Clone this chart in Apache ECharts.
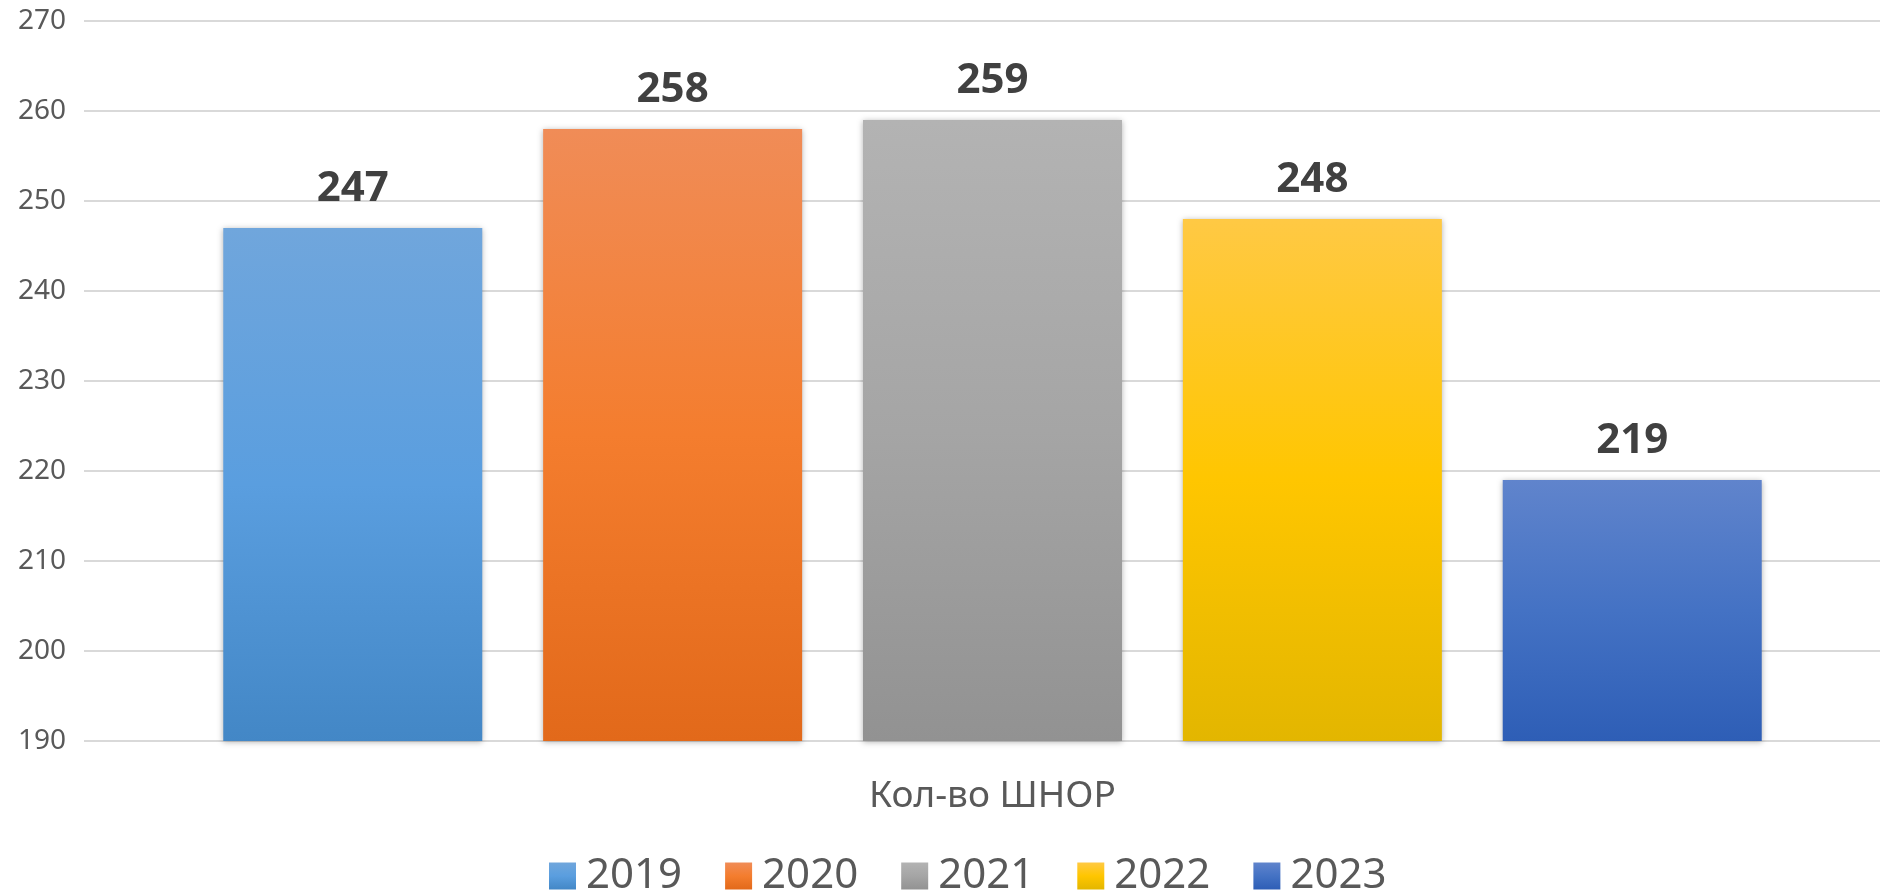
<!DOCTYPE html>
<html>
<head>
<meta charset="utf-8">
<script src="https://cdn.jsdelivr.net/npm/echarts@6/dist/echarts.min.js"></script>
<style>
  html, body { margin: 0; padding: 0; background: #fff; }
  #chart { width: 1880px; height: 893px; }
</style>
</head>
<body>
<div id="chart"></div>
<script>
  var categories = ['Кол-во ШНОР'];
  var years = ['2019', '2020', '2021', '2022', '2023'];
  var values = [247, 258, 259, 248, 219];
  var yTicks = { min: 190, max: 270, interval: 10 };

  // light top -> base -> dark bottom, like the office gradient fill
  var fills = [
    ['#70a6dc', '#5a9edf', '#4387c6'],
    ['#f08c57', '#f47d2e', '#e2691a'],
    ['#b3b3b3', '#a5a5a5', '#929292'],
    ['#ffc944', '#ffc600', '#e3b600'],
    ['#6084cc', '#4472c4', '#2e5eb6']
  ];

  function grad(c) {
    return {
      type: 'linear', x: 0, y: 0, x2: 0, y2: 1,
      colorStops: [
        { offset: 0, color: c[0] },
        { offset: 0.5, color: c[1] },
        { offset: 1, color: c[2] }
      ]
    };
  }

  var chart = echarts.init(document.getElementById('chart'));

  var series = years.map(function (y, i) {
    return {
      name: y,
      type: 'bar',
      xAxisIndex: 1,
      yAxisIndex: 1,
      data: [values[i]],
      barWidth: 259,
      barGap: '23.5%',
      itemStyle: {
        color: grad(fills[i]),
        shadowBlur: 6,
        shadowColor: 'rgba(0,0,0,0.3)',
        shadowOffsetY: 1
      },
      label: {
        show: true,
        position: 'top',
        distance: 18,
        fontFamily: 'Noto Sans',
        fontWeight: 'bold',
        fontSize: 42,
        color: '#404040'
      }
    };
  });

  var option = {
    animation: false,
    backgroundColor: '#fff',
    // grid 0 carries the gridlines and y labels, grid 1 the bars
    // (the original plot area runs a little past the right edge)
    grid: [
      { left: 84, right: 0, top: 21, bottom: 152 },
      { left: 105, right: 0, top: 21, bottom: 152 }
    ],
    legend: {
      data: years.map(function (y, i) {
        return { name: y, itemStyle: { color: grad(fills[i]) } };
      }),
      left: 549,
      top: 855,
      padding: 0,
      icon: 'rect',
      itemWidth: 27,
      itemHeight: 27,
      itemGap: 43,
      textStyle: {
        fontFamily: 'Noto Sans',
        fontSize: 42,
        color: '#595959',
        padding: [0, 0, 0, 5]
      }
    },
    xAxis: [
      { type: 'value', gridIndex: 0, show: false },
      {
        type: 'category',
        gridIndex: 1,
        data: categories,
        axisTick: { show: false },
        axisLine: { show: false },
        axisLabel: {
          margin: 37,
          fontFamily: 'Noto Sans',
          fontSize: 37,
          color: '#595959'
        }
      }
    ],
    yAxis: [
      {
        type: 'value',
        gridIndex: 0,
        min: yTicks.min,
        max: yTicks.max,
        interval: yTicks.interval,
        axisLine: { show: false },
        axisTick: { show: false },
        splitLine: { lineStyle: { color: '#d9d9d9', width: 2 } },
        axisLabel: {
          margin: 18,
          fontFamily: 'Noto Sans',
          fontSize: 28,
          color: '#595959'
        }
      },
      {
        type: 'value',
        gridIndex: 1,
        min: yTicks.min,
        max: yTicks.max,
        interval: yTicks.interval,
        show: false,
        splitLine: { show: false }
      }
    ],
    series: series
  };

  chart.setOption(option);
</script>
</body>
</html>
